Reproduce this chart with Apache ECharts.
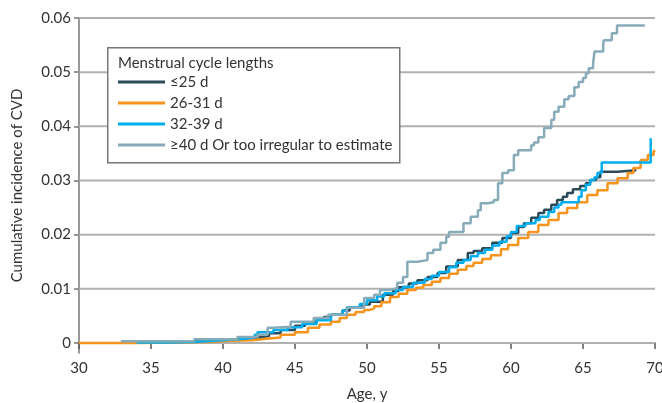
<!DOCTYPE html>
<html>
<head>
<meta charset="utf-8">
<script src="https://cdn.jsdelivr.net/npm/echarts@6/dist/echarts.min.js"></script>
<style>
  html, body { margin: 0; padding: 0; background: #fff; }
  #chart { width: 662px; height: 403px; }
</style>
</head>
<body>
<div id="chart"></div>
<script>
// series names shown in the legend
const seriesNames = ['≤25 d', '26-31 d', '32-39 d', '≥40 d Or too irregular to estimate'];
const seriesColors = ['#2b4b59', '#f7941d', '#00aeef', '#87abb9'];

// y tick values
const yTicks = [0, 0.01, 0.02, 0.03, 0.04, 0.05, 0.06];

// [age, cumulative incidence] - step points
const le25 = [
  [33.0, 0.0001], [35.0, 0.0002], [37.0, 0.0004], [39.0, 0.0006], [40.5, 0.0008],
  [41.5, 0.0010], [42.5, 0.0013], [43.2, 0.0018], [44.0, 0.0024], [45.0, 0.0032],
  [45.7, 0.0037], [46.5, 0.0043], [47.0, 0.0048], [47.5, 0.0052], [48.3, 0.0060],
  [48.8, 0.0065], [49.6, 0.0071], [50.2, 0.0076], [51.1, 0.0089], [51.8, 0.0096],
  [52.2, 0.0103], [52.9, 0.0110], [53.5, 0.0116], [54.2, 0.0122], [54.9, 0.0129],
  [55.5, 0.0141], [56.3, 0.0153], [57.0, 0.0166], [57.4, 0.0170], [58.0, 0.0175],
  [58.7, 0.0185], [59.4, 0.0194], [60.0, 0.0203], [60.5, 0.0214], [60.9, 0.0221],
  [61.4, 0.0231], [61.9, 0.0240], [62.3, 0.0246], [62.8, 0.0255], [63.2, 0.0264],
  [63.6, 0.0270], [63.9, 0.0277], [64.3, 0.0284], [64.8, 0.0290], [65.2, 0.0295],
  [65.5, 0.0301], [65.9, 0.0306], [66.2, 0.0316], [67.4, 0.0319], [68.7, 0.0319]
];
const d26to31 = [
  [30.0, 0], [34.0, 0.0001], [37.0, 0.0002], [39.0, 0.0004], [40.5, 0.0005],
  [42.0, 0.0008], [43.0, 0.0010], [44.0, 0.0015], [45.0, 0.0020], [45.9, 0.0028],
  [46.7, 0.0034], [47.5, 0.0039], [48.1, 0.0046], [48.6, 0.0052], [49.2, 0.0057],
  [49.8, 0.0061], [50.2, 0.0064], [50.5, 0.0068], [51.0, 0.0075], [51.6, 0.0085],
  [52.2, 0.0091], [52.8, 0.0098], [53.4, 0.0102], [53.9, 0.0107], [54.5, 0.0113],
  [55.1, 0.0120], [55.7, 0.0128], [56.3, 0.0135], [56.9, 0.0142], [57.4, 0.0148],
  [58.0, 0.0155], [58.6, 0.0162], [59.3, 0.0173], [59.8, 0.0181], [60.5, 0.0194],
  [61.2, 0.0205], [61.9, 0.0218], [62.6, 0.0227], [63.3, 0.0240], [63.9, 0.0249],
  [64.6, 0.0260], [65.3, 0.0273], [66.0, 0.0282], [66.7, 0.0295], [67.4, 0.0304],
  [68.1, 0.0314], [68.5, 0.0323], [69.0, 0.0338], [69.5, 0.0347], [69.9, 0.0353],
  [70.0, 0.0356]
];
const d32to39 = [
  [34.0, 0.0001], [36.0, 0.0002], [38.0, 0.0005], [40.0, 0.0008], [41.5, 0.0010],
  [42.2, 0.0015], [42.4, 0.0020], [43.5, 0.0024], [44.5, 0.0029], [45.5, 0.0035],
  [46.5, 0.0042], [47.5, 0.0052], [48.3, 0.0060], [48.6, 0.0066], [49.5, 0.0072],
  [50.0, 0.0079], [50.7, 0.0086], [51.2, 0.0092], [52.0, 0.0098], [52.5, 0.0104],
  [53.2, 0.0111], [54.0, 0.0118], [54.5, 0.0124], [55.0, 0.0131], [55.7, 0.0140],
  [56.2, 0.0148], [56.7, 0.0153], [57.2, 0.0160], [57.7, 0.0166], [58.2, 0.0172],
  [58.7, 0.0180], [59.2, 0.0187], [59.7, 0.0197], [60.0, 0.0205], [60.4, 0.0216],
  [61.0, 0.0221], [61.7, 0.0227], [62.0, 0.0233], [62.6, 0.0242], [63.0, 0.0250],
  [63.3, 0.0255], [63.5, 0.0260], [64.7, 0.0270], [64.9, 0.0282], [65.2, 0.0292],
  [65.5, 0.0301], [65.8, 0.0306], [66.0, 0.0314], [66.3, 0.0333], [69.7, 0.0378]
];
const ge40 = [
  [32.9, 0.0003], [38.0, 0.0007], [41.0, 0.0011], [42.4, 0.0015], [43.1, 0.0028],
  [43.5, 0.0030], [44.7, 0.0039], [46.3, 0.0046], [47.3, 0.0052], [48.6, 0.0065],
  [49.8, 0.0083], [50.5, 0.0089], [50.9, 0.0098], [51.6, 0.0101], [52.1, 0.0111],
  [52.5, 0.0122], [52.8, 0.0150], [53.5, 0.0153], [54.2, 0.0166], [54.6, 0.0172],
  [55.1, 0.0185], [55.5, 0.0196], [55.7, 0.0205], [56.7, 0.0221], [57.2, 0.0233],
  [57.7, 0.0245], [57.9, 0.0258], [58.4, 0.0260], [58.8, 0.0264], [59.1, 0.0295],
  [59.4, 0.0314], [59.8, 0.0319], [60.2, 0.0347], [60.5, 0.0356], [61.4, 0.0365],
  [61.6, 0.0370], [61.9, 0.0380], [62.3, 0.0397], [62.8, 0.0412], [63.0, 0.0427],
  [63.3, 0.0436], [63.7, 0.0450], [64.0, 0.0456], [64.4, 0.0472], [64.7, 0.0482],
  [65.0, 0.0489], [65.2, 0.0498], [65.4, 0.0507], [65.7, 0.0516], [65.8, 0.0538],
  [66.4, 0.0550], [66.45, 0.0559], [67.0, 0.0572], [67.36, 0.0586], [69.3, 0.0586]
];

const seriesData = [le25, d26to31, d32to39, ge40];
const FONT = 'Lato, "Noto Sans", sans-serif';
const X_MIN = 30;
const X_MAX = 70;

const chart = echarts.init(document.getElementById('chart'), null, { renderer: 'canvas' });

// horizontal gridlines at the tick values (the axis itself starts a bit below 0)
const gridSeries = yTicks.map((v, i) => ({
  name: 'gridline' + i,
  type: 'line',
  data: [[X_MIN, v], [X_MAX, v]],
  symbol: 'none',
  lineStyle: { color: '#b0b0b0', width: 2 }
}));

const lineSeries = seriesData.map((data, i) => ({
  name: seriesNames[i],
  type: 'line',
  step: 'end',
  data: data,
  symbol: 'none',
  lineStyle: { width: 2.5, color: seriesColors[i] },
  itemStyle: { color: seriesColors[i] }
}));

const option = {
  animation: false,
  textStyle: { fontFamily: FONT },
  grid: { left: 79, right: 7, top: 18, bottom: 50, containLabel: false, outerBoundsMode: 'none' },
  xAxis: {
    type: 'value',
    min: X_MIN,
    max: X_MAX,
    interval: 5,
    name: 'Age, y',
    nameLocation: 'middle',
    nameGap: 34,
    nameTextStyle: { fontSize: 15, color: '#333', fontFamily: FONT },
    axisLine: { lineStyle: { color: '#555', width: 1.5 } },
    axisTick: { show: true, length: 6, lineStyle: { color: '#555', width: 1.5 } },
    axisLabel: { fontSize: 15, color: '#333', margin: 8, fontFamily: FONT },
    splitLine: { show: false }
  },
  yAxis: {
    type: 'value',
    min: -0.00185,
    max: 0.06,
    name: 'Cumulative incidence of CVD',
    nameLocation: 'middle',
    nameGap: 54,
    nameTextStyle: { fontSize: 15, color: '#333', fontFamily: FONT },
    axisLine: { show: true, lineStyle: { color: '#777', width: 1.5 } },
    axisTick: { show: true, length: 5, customValues: yTicks, lineStyle: { color: '#777', width: 1.5 } },
    axisLabel: {
      fontSize: 15,
      color: '#333',
      margin: 8,
      fontFamily: FONT,
      customValues: yTicks,
      formatter: v => (v === 0 ? '0' : v.toFixed(2))
    },
    splitLine: { show: false }
  },
  legend: {
    data: seriesNames,
    orient: 'vertical',
    left: 118,
    top: 74,
    padding: 0,
    z: 20,
    icon: 'rect',
    itemWidth: 47,
    itemHeight: 3,
    itemGap: 5,
    textStyle: { fontSize: 15, color: '#333', fontFamily: FONT, lineHeight: 16 },
    selectedMode: false
  },
  graphic: [
    {
      type: 'rect',
      left: 107,
      top: 47,
      shape: { width: 292, height: 115 },
      style: { fill: '#fff', stroke: '#777', lineWidth: 1.5 },
      z: 10
    },
    {
      type: 'text',
      left: 118,
      top: 56,
      style: { text: 'Menstrual cycle lengths', fontSize: 15, fill: '#333', fontFamily: FONT },
      z: 11
    }
  ],
  series: gridSeries.concat(lineSeries)
};

chart.setOption(option);
</script>
</body>
</html>
